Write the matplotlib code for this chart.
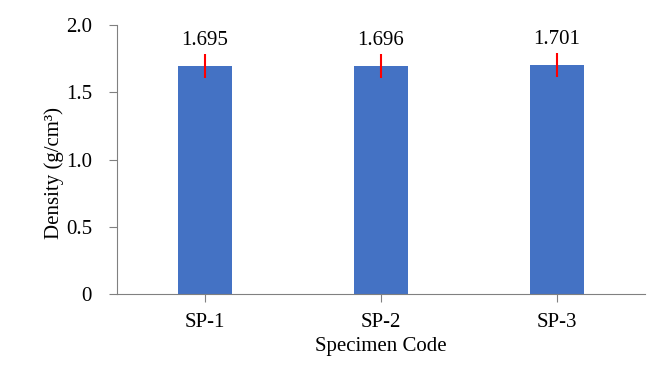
import matplotlib
matplotlib.use("Agg")
import matplotlib.pyplot as plt

categories = ["SP-1", "SP-2", "SP-3"]
density = [1.695, 1.696, 1.701]
errors = [0.09, 0.09, 0.09]
labels = ["1.695", "1.696", "1.701"]
yticks = [0, 0.5, 1.0, 1.5, 2.0]
ytick_labels = ["0", "0.5", "1.0", "1.5", "2.0"]

plt.rcParams['font.family'] = ['Liberation Serif', 'DejaVu Serif']

fig = plt.figure(figsize=(6.72, 3.74), dpi=100)
ax = fig.add_axes([0.174, 0.214, 0.786, 0.719])

x = range(len(categories))
ax.bar(x, density, width=0.31, color='#4472C4', zorder=2)
ax.errorbar(x, density, yerr=errors, fmt='none', ecolor='#FF0000', elinewidth=1.5, capsize=0, zorder=3)
for xi, v, e, lab in zip(x, density, errors, labels):
    ax.text(xi, v + e + 0.03, lab, ha='center', va='bottom', fontsize=15)

ax.set_xlim(-0.5, 2.5)
ax.set_ylim(0, 2.0)
ax.set_yticks(yticks)
ax.set_yticklabels(ytick_labels)
ax.set_xticks(list(x))
ax.set_xticklabels(categories)
ax.tick_params(axis='both', labelsize=15, color='#808080', length=6, width=0.8)
ax.tick_params(axis='y', pad=12)
ax.tick_params(axis='x', pad=8)
for s in ['top', 'right']:
    ax.spines[s].set_visible(False)
for s in ['left', 'bottom']:
    ax.spines[s].set_color('#808080')
    ax.spines[s].set_linewidth(0.8)
ax.set_xlabel("Specimen Code", fontsize=15, labelpad=3)
ax.set_ylabel("Density (g/cm³)", fontsize=15, labelpad=4)
ax.yaxis.set_label_coords(-0.1, 0.45)

fig.savefig("out.png", dpi=100)
